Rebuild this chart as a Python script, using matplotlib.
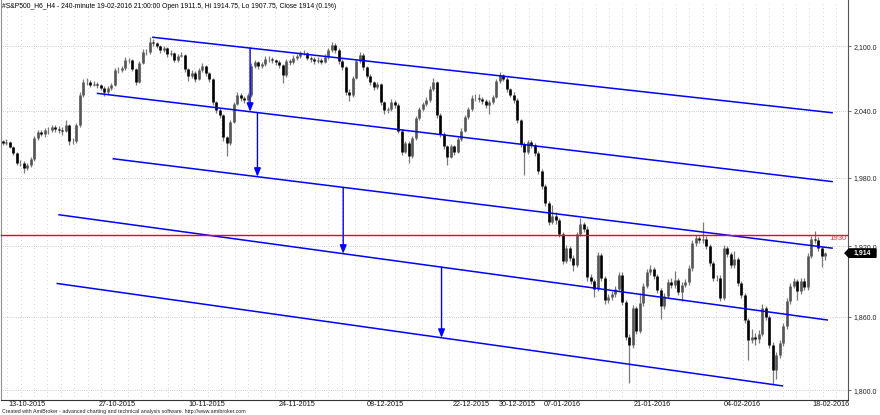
import numpy as np
import matplotlib
matplotlib.use("Agg")
import matplotlib.pyplot as plt
from matplotlib import font_manager
from matplotlib.patches import Polygon
from matplotlib.ticker import FixedLocator, FixedFormatter, NullLocator
from matplotlib.transforms import IdentityTransform

# ---------------- data ----------------
close = [
    2011, 2012, 2007.5, 2002, 1993, 1993, 1988.5, 1991, 1996.5, 2015.5,
    2021, 2019, 2022.5, 2022.5, 2025, 2023.5, 2022.5, 2022, 2027, 2012.5,
    2012.5, 2027, 2054.5, 2066.5, 2067, 2064, 2065, 2063.5, 2061.5, 2057.5,
    2061, 2064, 2077.5, 2077.5, 2079.5, 2087, 2087, 2078.5, 2066.5, 2084.5,
    2094.5, 2094.5, 2104, 2103, 2100.5, 2096.5, 2098.5, 2092.5, 2093.5, 2087,
    2091, 2092, 2078.5, 2072, 2075, 2069.5, 2077.5, 2081.5, 2075, 2069.5,
    2048, 2041, 2036.5, 2016.5, 2011, 2030, 2046.5, 2054.5, 2052, 2050,
    2054.5, 2081.5, 2085, 2082, 2083, 2088, 2088, 2087, 2085, 2082.5,
    2073, 2086, 2085, 2089, 2090.5, 2093.5, 2094, 2089, 2088, 2086,
    2087, 2085.5, 2090, 2096.5, 2101, 2096.5, 2086, 2080.5, 2057.5, 2054.5,
    2070.5, 2086, 2092, 2080.5, 2072.5, 2066.5, 2062, 2064.5, 2048, 2040.5,
    2041.5, 2048, 2045.5, 2022, 2003, 2011, 1999, 2015.5, 2033.5, 2041.5,
    2046.5, 2050, 2060.5, 2066.5, 2036.5, 2019, 2008, 1998.5, 2008, 2003,
    2014.5, 2022, 2034.5, 2041.5, 2052, 2051.5, 2051, 2049, 2045.5, 2048,
    2053, 2067.5, 2073, 2069.5, 2060, 2055, 2050, 2031.5, 2010, 2003,
    2012, 2009, 2002, 1986, 1972.5, 1957.5, 1941, 1946, 1942.5, 1930.5,
    1907, 1918.5, 1910, 1904, 1930.5, 1939, 1935, 1893.5, 1890, 1883.5,
    1912.5, 1892.5, 1874, 1876.5, 1879, 1883.5, 1895.5, 1872.5, 1843.5, 1836.5,
    1867.5, 1848.5, 1871.5, 1886, 1897.5, 1900.5, 1894.5, 1882.5, 1869, 1877.5,
    1889, 1886.5, 1891, 1881, 1887, 1889.5, 1901, 1922.5, 1927, 1925,
    1926.5, 1920, 1905.5, 1892.5, 1893, 1876, 1918, 1913, 1903.5, 1909,
    1888.5, 1878, 1857.5, 1841, 1843.5, 1841.5, 1846, 1867.5, 1860, 1837,
    1816.5, 1828.5, 1838.5, 1852.5, 1873.5, 1886, 1890, 1881.5, 1890, 1885,
    1911.5, 1926, 1925.5, 1918.5, 1911.5, 1914,
]
high = [
    2014, 2014.5, 2013, 2008.5, 2003, 1996, 1994.5, 1993, 1998, 2017,
    2023, 2023, 2024.5, 2025, 2027.5, 2027, 2026, 2025, 2031.5, 2028,
    2015.5, 2029, 2057, 2069.5, 2070, 2068.5, 2067.5, 2066.5, 2065, 2062.5,
    2063, 2066, 2080, 2081, 2082, 2089.5, 2089, 2088, 2079.5, 2086,
    2097, 2097.5, 2108.5, 2107, 2104.5, 2101.5, 2100.5, 2099.5, 2096.5, 2094.5,
    2093, 2094.5, 2093, 2079.5, 2077.5, 2076.5, 2079.5, 2084, 2082.5, 2076,
    2070.5, 2049, 2043, 2037.5, 2017.5, 2032, 2048.5, 2057.5, 2056.5, 2054,
    2056.5, 2084, 2087.5, 2086.5, 2085.5, 2090.5, 2091, 2090, 2088.5, 2087,
    2083.5, 2088, 2088.5, 2091.5, 2093, 2095.5, 2096.5, 2095, 2091, 2089.5,
    2089.5, 2089, 2092.5, 2098.5, 2104.5, 2103, 2098, 2088, 2082, 2060,
    2072.5, 2088, 2094.5, 2093.5, 2082, 2074, 2068, 2066.5, 2066, 2049.5,
    2044, 2050.5, 2050, 2047, 2023.5, 2013, 2012.5, 2017.5, 2035.5, 2043.5,
    2048.5, 2052.5, 2062.5, 2070, 2068, 2038, 2021, 2009.5, 2010, 2009.5,
    2016.5, 2024.5, 2036.5, 2043.5, 2054.5, 2056, 2055.5, 2053, 2050.5, 2050,
    2055, 2069.5, 2075.5, 2074.5, 2071, 2061.5, 2057, 2051.5, 2033, 2011.5,
    2014, 2014, 2010.5, 2003.5, 1988, 1974, 1959, 1956, 1950, 1944,
    1932, 1921, 1920.5, 1912, 1932.5, 1944.5, 1941, 1937, 1896, 1892,
    1915, 1914.5, 1894.5, 1879.5, 1881.5, 1886, 1898, 1897.5, 1874.5, 1846,
    1870, 1869.5, 1880, 1888.5, 1900, 1903.5, 1902.5, 1896.5, 1884.5, 1880,
    1891.5, 1893, 1899, 1893, 1889.5, 1892, 1903.5, 1925, 1929.5, 1929,
    1941, 1928.5, 1922, 1907.5, 1895.5, 1895, 1921, 1920, 1915, 1916,
    1911, 1890.5, 1880, 1859.5, 1850, 1847, 1849, 1871, 1869, 1862,
    1839, 1831, 1841, 1855, 1876, 1888.5, 1892.5, 1891.5, 1892.5, 1893,
    1914, 1929, 1933, 1927.5, 1920, 1914.75,
]
low = [
    2009, 2009.5, 2006, 2000.5, 1991, 1990.5, 1984, 1987, 1989.5, 1995,
    2014, 2017, 2016.5, 2019, 2020.5, 2021, 2019.5, 2018, 2020.5, 2009,
    2010, 2011, 2025.5, 2053, 2064, 2062, 2062.5, 2061.5, 2059.5, 2053.5,
    2056, 2059, 2062.5, 2075, 2075.5, 2078, 2084, 2076.5, 2063.5, 2065.5,
    2083, 2091.5, 2093, 2100, 2098, 2094, 2094.5, 2090, 2091, 2085,
    2085.5, 2089.5, 2076, 2067.5, 2070, 2066.5, 2068.5, 2076, 2072.5, 2067,
    2045.5, 2038.5, 2033.5, 2013, 1999.5, 2009, 2029, 2045, 2049, 2047.5,
    2045, 2053, 2079.5, 2079, 2080, 2081.5, 2085.5, 2084.5, 2082.5, 2080,
    2066, 2071.5, 2082.5, 2083.5, 2087, 2089, 2091.5, 2087, 2085.5, 2083.5,
    2084, 2083, 2084, 2088.5, 2095, 2094, 2083.5, 2077.5, 2055, 2049,
    2053, 2069, 2084.5, 2078, 2070.5, 2064, 2059.5, 2060, 2045.5, 2037.5,
    2038, 2039.5, 2043, 2019.5, 2000, 2001.5, 1993, 1997.5, 2014, 2032,
    2039.5, 2044.5, 2048.5, 2058.5, 2034, 2016.5, 2005.5, 1991, 1997, 2000.5,
    2001.5, 2013, 2020.5, 2033, 2040, 2049, 2048.5, 2046.5, 2043, 2037,
    2046, 2051.5, 2066, 2067.5, 2057.5, 2052.5, 2047.5, 2029, 2007, 1982,
    2001, 2006.5, 1999.5, 1983.5, 1970, 1955, 1938, 1939, 1939.5, 1928,
    1904.5, 1905.5, 1907.5, 1899, 1902.5, 1928.5, 1932, 1890.5, 1887.5, 1876.5,
    1881.5, 1890, 1870.5, 1872, 1874.5, 1877, 1881.5, 1870, 1840.5, 1805.5,
    1834.5, 1846, 1846.5, 1869.5, 1884, 1895.5, 1892, 1880, 1858, 1866.5,
    1875.5, 1884, 1884.5, 1878.5, 1873, 1885, 1887, 1899, 1920, 1922.5,
    1922.5, 1917.5, 1903, 1890, 1890.5, 1873.5, 1874, 1910.5, 1901, 1901.5,
    1886, 1875.5, 1855, 1824.5, 1838, 1836.5, 1838.5, 1844, 1857.5, 1834,
    1805, 1809, 1826, 1836, 1850, 1871, 1884, 1874, 1879.5, 1882.5,
    1883, 1909.5, 1922.5, 1916, 1902, 1907.75,
]
first_open = 2013

date_labels = ["13-10-2015", "27-10-2015", "10-11-2015", "24-11-2015", "08-12-2015",
               "22-12-2015", "30-12-2015", "07-01-2016", "21-01-2016", "04-02-2016",
               "18-02-2016"]
date_pos = [6.9, 32.6, 58.3, 84.0, 109.1, 133.7, 146.9, 159.7, 185.4, 211.1, 236.6]

price_ticks = [1800, 1860, 1920, 1980, 2040, 2100]
price_tick_labels = ["1,800.0", "1,860.0", "1,920.0", "1,980.0", "2,040.0", "2,100.0"]

# channel lines: (bar_start, price_start, bar_end, price_end)
channel_x0 = [42.6, 26.8, 31.3, 15.8, 15.3]
channel_p0 = [2108.6, 2056.2, 1996.8, 1947.3, 1888.2]
channel_x1 = [237.1, 237.1, 237.1, 235.7, 222.9]
channel_p1 = [2038.3, 1976.3, 1918.2, 1857.4, 1803.3]

# arrows: bar position, from channel -> to channel
arrow_x = [70.6, 72.7, 97.2, 125.3]
arrow_from = [0, 1, 2, 3]
arrow_to = [1, 2, 3, 4]

level = 1930
title = ("#S&P500_H6_H4 - 240-minute 19-02-2016 21:00:00 Open 1911.5, "
         "Hi 1914.75, Lo 1907.75, Close 1914 (0.1%)")
footer = ("Created with AmiBroker - advanced charting and technical analysis "
          "software. http://www.amibroker.com")

# ---------------- fonts ----------------
avail = {f.name for f in font_manager.fontManager.ttflist}
FONT = "Liberation Sans Narrow" if "Liberation Sans Narrow" in avail else "Liberation Sans"
plt.rcParams["font.family"] = [FONT, "DejaVu Sans"]

W, H = 880, 415
fig = plt.figure(figsize=(W / 100, H / 100), dpi=100)
ax = fig.add_axes([1 / W, 15 / H, 847 / W, 400 / H])
ax.set_yscale("log")
ax.set_xlim(-0.571, 241.43)
ax.set_ylim(1792.0, 2144.06)


def px_to_bar(px):
    return (px - 3) / 3.5


# grid
for gx in np.arange(7.3, 848, 13.37):
    ax.axvline(px_to_bar(gx), color="#a8a8a8", lw=0.6, ls=(0, (0.6, 4.2)), zorder=0)
for p in price_ticks:
    ax.axhline(p, color="#a0a0a0", lw=0.6, ls=(0, (0.6, 1.6)), zorder=0)

# bars
n = len(close)
xs = np.arange(n)
opens = [first_open] + close[:-1]
ax.vlines(xs, low, high, color="#7a7a7a", lw=0.9, zorder=2)
up = [i for i in range(n) if close[i] >= opens[i]]
dn = [i for i in range(n) if close[i] < opens[i]]
ax.vlines([xs[i] for i in up], [opens[i] for i in up], [close[i] for i in up],
          color="#555555", lw=1.9, zorder=3)
ax.vlines([xs[i] for i in dn], [opens[i] for i in dn], [close[i] for i in dn],
          color="#000000", lw=1.9, zorder=3)

# channel lines
for k in range(len(channel_x0)):
    ax.plot([channel_x0[k], channel_x1[k]], [channel_p0[k], channel_p1[k]],
            color="#0000ff", lw=1.1, zorder=4, solid_capstyle="butt")


def chan_at(k, x):
    t = (x - channel_x0[k]) / (channel_x1[k] - channel_x0[k])
    return np.exp(np.log(channel_p0[k]) + t * (np.log(channel_p1[k]) - np.log(channel_p0[k])))


for ax_x, a, b in zip(arrow_x, arrow_from, arrow_to):
    ax.annotate("", xy=(ax_x, chan_at(b, ax_x)), xytext=(ax_x, chan_at(a, ax_x)),
                arrowprops=dict(arrowstyle="-|>,head_length=0.5,head_width=0.2",
                                color="#0000ff", lw=1.0, shrinkA=0, shrinkB=0),
                zorder=5)

# red level
ax.axhline(level, color="#ff0000", lw=1.0, zorder=4)
ax.text(px_to_bar(846.5), level, str(level), color="#ff3333", ha="right", va="top",
        fontsize=5.6, zorder=6)

# axes styling
ax.spines["top"].set_visible(False)
ax.spines["left"].set_color("#909090")
ax.spines["right"].set_color("#555555")
ax.spines["bottom"].set_color("#333333")
for s in ["left", "right", "bottom"]:
    ax.spines[s].set_linewidth(0.8)

ax.yaxis.tick_right()
ax.yaxis.set_major_locator(FixedLocator(price_ticks))
ax.yaxis.set_major_formatter(FixedFormatter(price_tick_labels))
ax.yaxis.set_minor_locator(NullLocator())
ax.tick_params(axis="y", which="major", length=2.5, width=0.6, color="#555555", pad=1.5,
               labelsize=5.0, labelcolor="#222222")
ax.set_xticks(date_pos)
ax.set_xticklabels(date_labels)
ax.tick_params(axis="x", length=0, pad=0.8, labelsize=5.2, labelcolor="#111111")

# last price tag
fig.canvas.draw()
ly = ax.transData.transform((0, close[-1]))[1]
x0, x1, tip = 849, 876, 845
hh = 4.2
poly = Polygon([(tip, ly), (x0, ly + hh), (x1, ly + hh), (x1, ly - hh), (x0, ly - hh)],
               closed=True, facecolor="#000000", edgecolor="#000000",
               transform=IdentityTransform(), clip_on=False)
fig.add_artist(poly)
fig.text((x0 + x1) / 2 / W, ly / H, f"{close[-1]:,.0f}", color="white", fontsize=5.0,
         ha="center", va="center", fontweight="bold")

fig.text(2 / W, 1 - 6 / H, title, fontsize=4.9, ha="left", va="center", color="#000000")
fig.text(2 / W, 1 - 411.5 / H, footer, fontsize=3.8, ha="left", va="center", color="#222222")

fig.savefig("out.png", dpi=100)
